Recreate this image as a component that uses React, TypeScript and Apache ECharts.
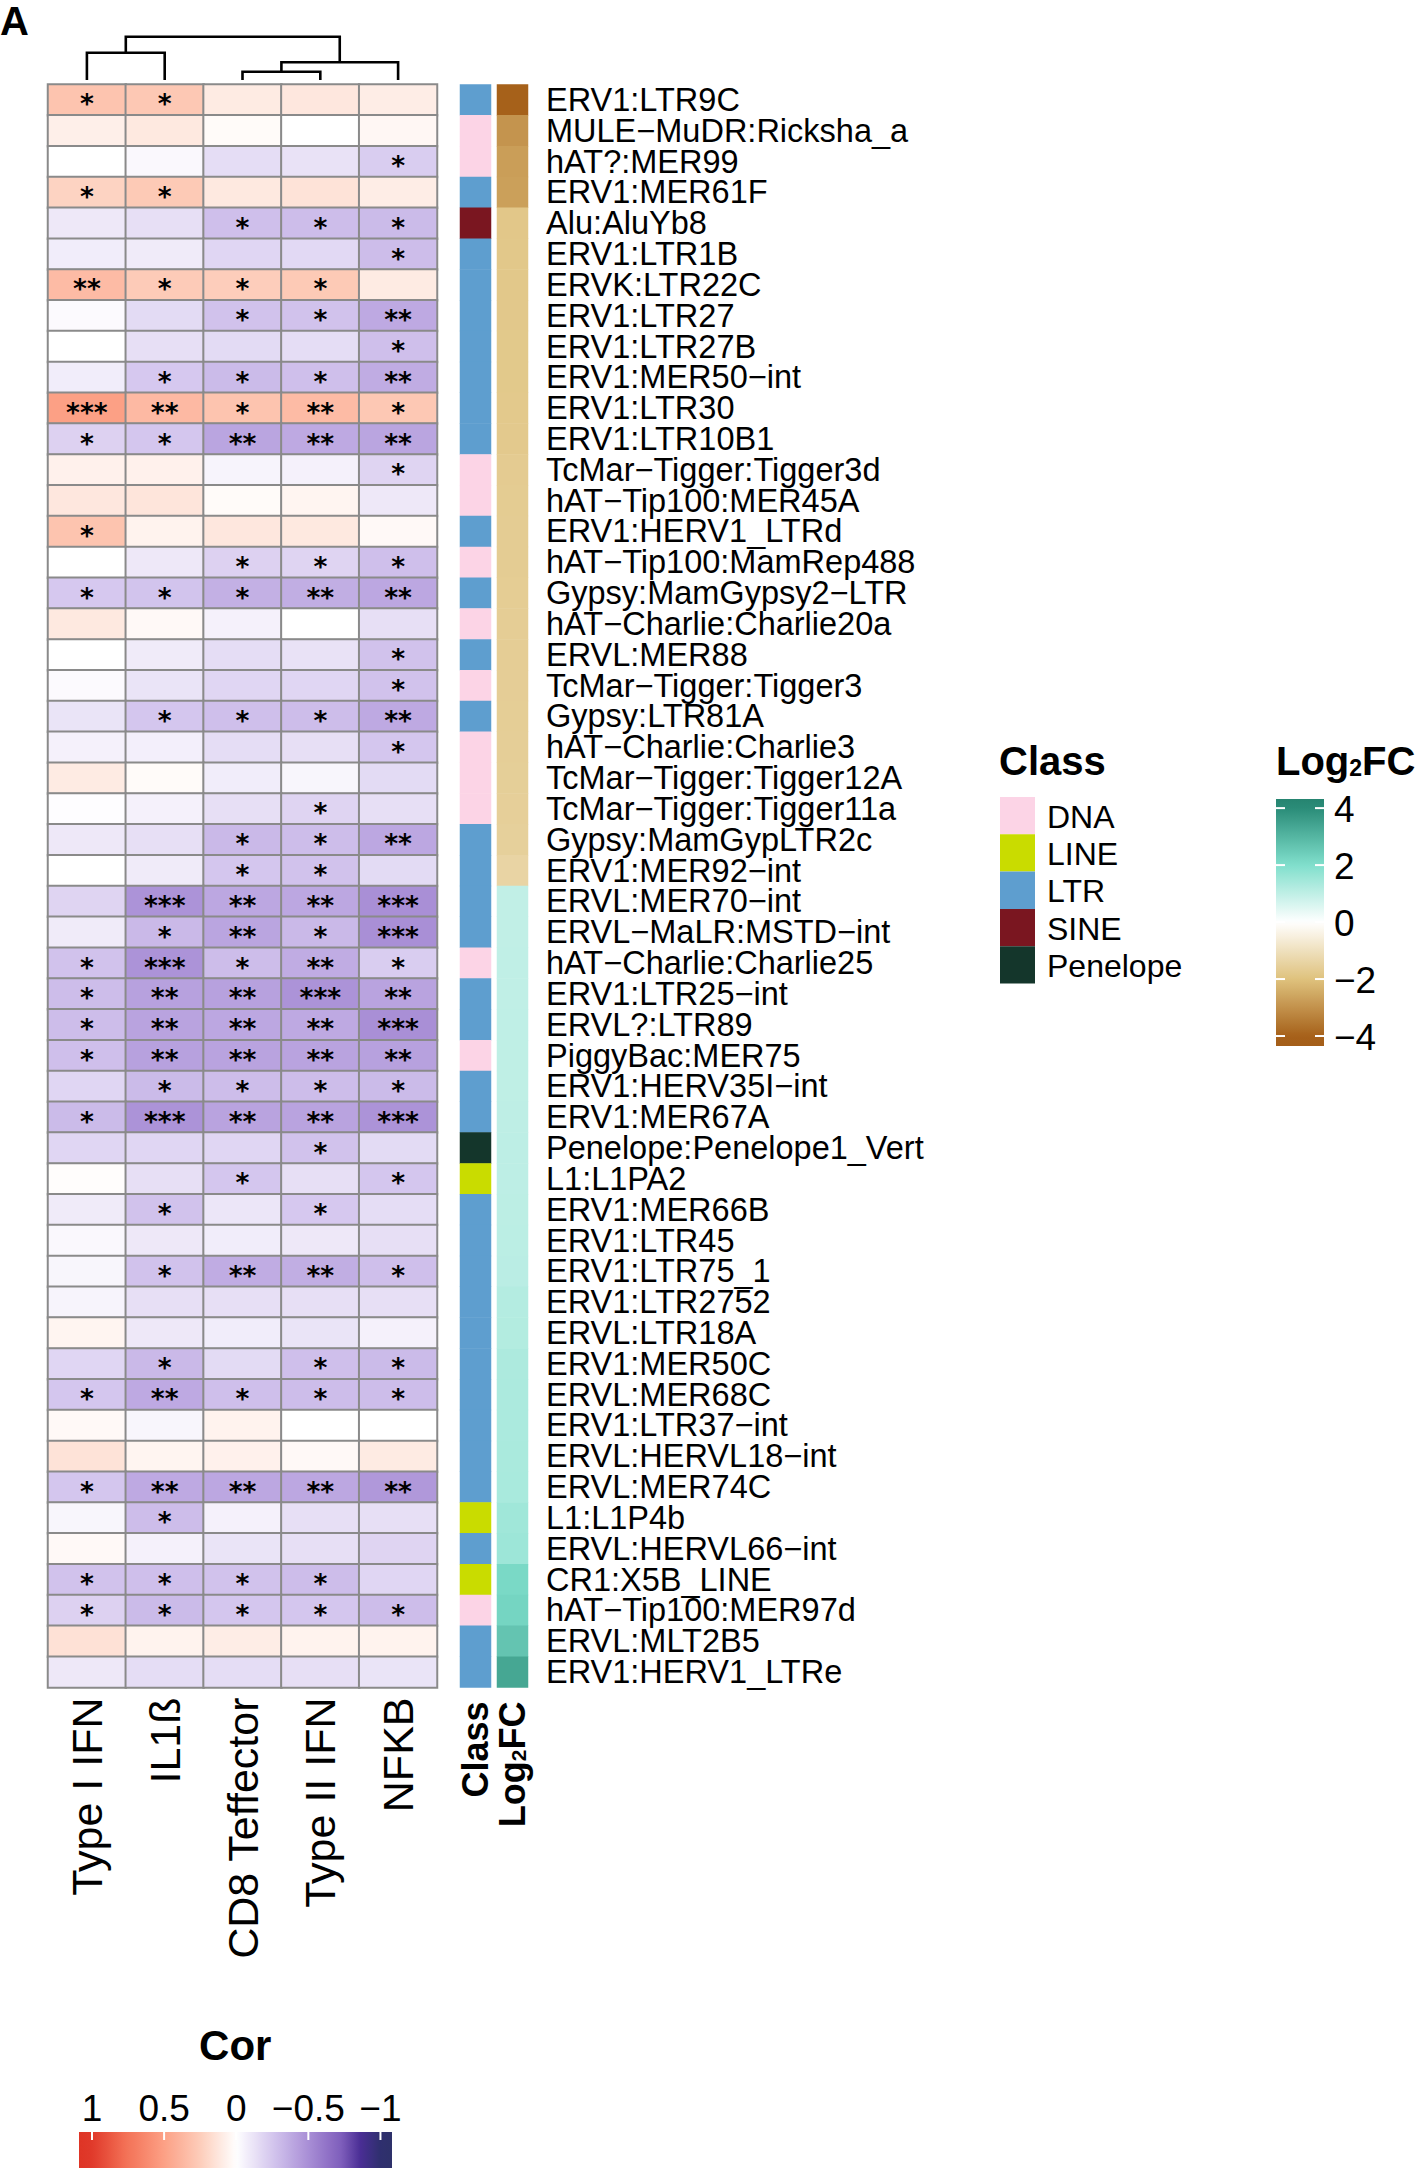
import React, { useEffect, useRef } from 'react';
import * as echarts from 'echarts';

const FONT = '"Liberation Sans", Arial, Helvetica, sans-serif';
const STAR_FONT = '"DejaVu Sans", "Liberation Sans", sans-serif';

// ---------------- DATA ----------------
const columns = ['Type I IFN', 'IL1ß', 'CD8 Teffector', 'Type II IFN', 'NFKB'];

const rowLabels = [
  'ERV1:LTR9C', 'MULE−MuDR:Ricksha_a', 'hAT?:MER99', 'ERV1:MER61F', 'Alu:AluYb8',
  'ERV1:LTR1B', 'ERVK:LTR22C', 'ERV1:LTR27', 'ERV1:LTR27B', 'ERV1:MER50−int',
  'ERV1:LTR30', 'ERV1:LTR10B1', 'TcMar−Tigger:Tigger3d', 'hAT−Tip100:MER45A', 'ERV1:HERV1_LTRd',
  'hAT−Tip100:MamRep488', 'Gypsy:MamGypsy2−LTR', 'hAT−Charlie:Charlie20a', 'ERVL:MER88', 'TcMar−Tigger:Tigger3',
  'Gypsy:LTR81A', 'hAT−Charlie:Charlie3', 'TcMar−Tigger:Tigger12A', 'TcMar−Tigger:Tigger11a', 'Gypsy:MamGypLTR2c',
  'ERV1:MER92−int', 'ERVL:MER70−int', 'ERVL−MaLR:MSTD−int', 'hAT−Charlie:Charlie25', 'ERV1:LTR25−int',
  'ERVL?:LTR89', 'PiggyBac:MER75', 'ERV1:HERV35I−int', 'ERV1:MER67A', 'Penelope:Penelope1_Vert',
  'L1:L1PA2', 'ERV1:MER66B', 'ERV1:LTR45', 'ERV1:LTR75_1', 'ERV1:LTR2752',
  'ERVL:LTR18A', 'ERV1:MER50C', 'ERVL:MER68C', 'ERV1:LTR37−int', 'ERVL:HERVL18−int',
  'ERVL:MER74C', 'L1:L1P4b', 'ERVL:HERVL66−int', 'CR1:X5B_LINE', 'hAT−Tip100:MER97d',
  'ERVL:MLT2B5', 'ERV1:HERV1_LTRe',
];

const classNames = ['DNA', 'LINE', 'LTR', 'SINE', 'Penelope'];
const classColors = ['#FCD4E6', '#C9DC00', '#5E9ECF', '#7A1620', '#14362B'];

const rowClass = [
  'LTR', 'DNA', 'DNA', 'LTR', 'SINE',
  'LTR', 'LTR', 'LTR', 'LTR', 'LTR',
  'LTR', 'LTR', 'DNA', 'DNA', 'LTR',
  'DNA', 'LTR', 'DNA', 'LTR', 'DNA',
  'LTR', 'DNA', 'DNA', 'DNA', 'LTR',
  'LTR', 'LTR', 'LTR', 'DNA', 'LTR',
  'LTR', 'DNA', 'LTR', 'LTR', 'Penelope',
  'LINE', 'LTR', 'LTR', 'LTR', 'LTR',
  'LTR', 'LTR', 'LTR', 'LTR', 'LTR',
  'LTR', 'LINE', 'LTR', 'LINE', 'DNA',
  'LTR', 'LTR',
];

const log2fc = [
  -4.0, -2.95, -2.75, -2.7, -1.82,
  -1.8, -1.8, -1.79, -1.78, -1.78,
  -1.77, -1.76, -1.7, -1.68, -1.67,
  -1.66, -1.65, -1.64, -1.63, -1.62,
  -1.61, -1.6, -1.58, -1.57, -1.55,
  -1.4, 0.98, 0.99, 1.0, 1.0,
  1.01, 1.02, 1.02, 1.03, 1.04,
  1.05, 1.06, 1.07, 1.08, 1.18,
  1.2, 1.28, 1.3, 1.31, 1.33,
  1.35, 1.5, 1.55, 2.15, 2.25,
  2.65, 3.35,
];

// correlation: [Type I IFN, IL1ß, CD8 Teffector, Type II IFN, NFKB]
const corValues = [
  [0.30, 0.28, 0.10, 0.12, 0.09],
  [0.08, 0.11, 0.02, 0.00, 0.04],
  [0.00, -0.03, -0.15, -0.13, -0.22],
  [0.22, 0.27, 0.11, 0.14, 0.09],
  [-0.10, -0.14, -0.28, -0.29, -0.30],
  [-0.08, -0.09, -0.18, -0.17, -0.29],
  [0.35, 0.26, 0.25, 0.27, 0.10],
  [-0.02, -0.16, -0.27, -0.27, -0.38],
  [0.00, -0.14, -0.16, -0.15, -0.28],
  [-0.08, -0.24, -0.30, -0.28, -0.37],
  [0.50, 0.36, 0.30, 0.35, 0.28],
  [-0.20, -0.25, -0.40, -0.38, -0.40],
  [0.07, 0.07, -0.05, -0.06, -0.19],
  [0.12, 0.13, 0.02, 0.05, -0.10],
  [0.30, 0.06, 0.12, 0.11, 0.03],
  [0.00, -0.10, -0.20, -0.19, -0.28],
  [-0.24, -0.26, -0.35, -0.36, -0.39],
  [0.11, 0.03, -0.06, 0.00, -0.14],
  [0.00, -0.09, -0.15, -0.13, -0.27],
  [-0.02, -0.12, -0.18, -0.18, -0.27],
  [-0.12, -0.25, -0.28, -0.29, -0.38],
  [-0.06, -0.07, -0.15, -0.14, -0.25],
  [0.10, 0.02, -0.08, -0.04, -0.16],
  [-0.01, -0.06, -0.14, -0.19, -0.14],
  [-0.10, -0.14, -0.31, -0.29, -0.39],
  [0.00, -0.09, -0.25, -0.27, -0.16],
  [-0.19, -0.48, -0.39, -0.39, -0.50],
  [-0.09, -0.31, -0.40, -0.31, -0.50],
  [-0.27, -0.48, -0.29, -0.37, -0.22],
  [-0.29, -0.42, -0.42, -0.48, -0.41],
  [-0.29, -0.41, -0.39, -0.38, -0.50],
  [-0.28, -0.42, -0.41, -0.41, -0.42],
  [-0.18, -0.30, -0.29, -0.29, -0.30],
  [-0.30, -0.48, -0.41, -0.41, -0.48],
  [-0.18, -0.18, -0.18, -0.27, -0.16],
  [0.01, -0.14, -0.25, -0.14, -0.25],
  [-0.09, -0.27, -0.11, -0.24, -0.15],
  [-0.03, -0.10, -0.08, -0.10, -0.14],
  [-0.04, -0.27, -0.37, -0.36, -0.28],
  [-0.05, -0.14, -0.14, -0.14, -0.14],
  [0.05, -0.10, -0.08, -0.12, -0.06],
  [-0.18, -0.31, -0.16, -0.28, -0.30],
  [-0.25, -0.38, -0.28, -0.29, -0.29],
  [0.03, -0.04, 0.06, 0.00, 0.00],
  [0.14, 0.05, 0.07, 0.03, 0.10],
  [-0.25, -0.38, -0.39, -0.39, -0.46],
  [-0.04, -0.29, -0.06, -0.14, -0.14],
  [0.03, -0.06, -0.12, -0.14, -0.19],
  [-0.27, -0.28, -0.27, -0.29, -0.18],
  [-0.20, -0.30, -0.25, -0.25, -0.29],
  [0.15, 0.06, 0.09, 0.06, 0.06],
  [-0.10, -0.15, -0.15, -0.14, -0.12],
];

// significance level (number of asterisks)
const sigLevels = [
  [1, 1, 0, 0, 0], [0, 0, 0, 0, 0], [0, 0, 0, 0, 1], [1, 1, 0, 0, 0], [0, 0, 1, 1, 1],
  [0, 0, 0, 0, 1], [2, 1, 1, 1, 0], [0, 0, 1, 1, 2], [0, 0, 0, 0, 1], [0, 1, 1, 1, 2],
  [3, 2, 1, 2, 1], [1, 1, 2, 2, 2], [0, 0, 0, 0, 1], [0, 0, 0, 0, 0], [1, 0, 0, 0, 0],
  [0, 0, 1, 1, 1], [1, 1, 1, 2, 2], [0, 0, 0, 0, 0], [0, 0, 0, 0, 1], [0, 0, 0, 0, 1],
  [0, 1, 1, 1, 2], [0, 0, 0, 0, 1], [0, 0, 0, 0, 0], [0, 0, 0, 1, 0], [0, 0, 1, 1, 2],
  [0, 0, 1, 1, 0], [0, 3, 2, 2, 3], [0, 1, 2, 1, 3], [1, 3, 1, 2, 1], [1, 2, 2, 3, 2],
  [1, 2, 2, 2, 3], [1, 2, 2, 2, 2], [0, 1, 1, 1, 1], [1, 3, 2, 2, 3], [0, 0, 0, 1, 0],
  [0, 0, 1, 0, 1], [0, 1, 0, 1, 0], [0, 0, 0, 0, 0], [0, 1, 2, 2, 1], [0, 0, 0, 0, 0],
  [0, 0, 0, 0, 0], [0, 1, 0, 1, 1], [1, 2, 1, 1, 1], [0, 0, 0, 0, 0], [0, 0, 0, 0, 0],
  [1, 2, 2, 2, 2], [0, 1, 0, 0, 0], [0, 0, 0, 0, 0], [1, 1, 1, 1, 0], [1, 1, 1, 1, 1],
  [0, 0, 0, 0, 0], [0, 0, 0, 0, 0],
];

// column dendrogram merges: [xLeft, xRight, mergeHeight, leftChildHeight, rightChildHeight]
const dendroMerges = [
  [2.5, 3.5, 0.19, 0, 0],
  [3.0, 4.5, 0.41, 0.19, 0],
  [0.5, 1.5, 0.63, 0, 0],
  [1.0, 3.75, 1.0, 0.63, 0.41],
];

const corTicks = [1, 0.5, 0, -0.5, -1];
const corTickLabels = ['1', '0.5', '0', '−0.5', '−1'];
const fcTicks = [4, 2, 0, -2, -4];
const fcTickLabels = ['4', '2', '0', '−2', '−4'];

// colour scales (value -> colour)
const corStops: [number, string][] = [
  [-1.1, '#2E3169'], [-1, '#2F2F6E'], [-0.86, '#4A2E95'], [-0.73, '#7E5DBB'],
  [-0.5, '#A98FD6'], [-0.25, '#D4C6EE'], [0, '#FFFFFF'], [0.25, '#FDCDBA'],
  [0.5, '#FCA085'], [0.77, '#F37055'], [1, '#E0392A'], [1.1, '#DE3526'],
];
const fcStops: [number, string][] = [
  [-4.5, '#A35C18'], [-4, '#A6611A'], [-2, '#DFC27D'], [0, '#FFFFFF'],
  [2, '#80DFCC'], [4, '#2A8C78'], [4.5, '#237F6B'],
];

// ---------------- LAYOUT ----------------
const W = 1417;
const H = 2168;
const HM = { left: 48, top: 84.5, width: 389, height: 1603 };
const CLASS_COL = { left: 460, width: 31 };
const FC_COL = { left: 497, width: 31 };
const DENDRO = { top: 36.7, height: 43.3 };

function hex2rgb(h: string) {
  const n = parseInt(h.slice(1), 16);
  return [(n >> 16) & 255, (n >> 8) & 255, n & 255];
}
function scaleColor(stops: [number, string][], v: number) {
  if (v <= stops[0][0]) return stops[0][1];
  for (let i = 1; i < stops.length; i++) {
    if (v <= stops[i][0]) {
      const [v0, c0] = stops[i - 1];
      const [v1, c1] = stops[i];
      const t = (v - v0) / (v1 - v0);
      const a = hex2rgb(c0);
      const b = hex2rgb(c1);
      const c = a.map((x, k) => Math.round(x + (b[k] - x) * t));
      return `rgb(${c[0]},${c[1]},${c[2]})`;
    }
  }
  return stops[stops.length - 1][1];
}
function sampleColors(stops: [number, string][], lo: number, hi: number, n: number) {
  const out: string[] = [];
  for (let i = 0; i < n; i++) out.push(scaleColor(stops, lo + ((hi - lo) * i) / (n - 1)));
  return out;
}
function gradientStops(stops: [number, string][], vStart: number, vEnd: number, n: number) {
  const out: { offset: number; color: string }[] = [];
  for (let i = 0; i < n; i++) {
    const t = i / (n - 1);
    out.push({ offset: t, color: scaleColor(stops, vStart + (vEnd - vStart) * t) });
  }
  return out;
}

function txt(text: string, x: number, y: number, size: number, opts: any = {}) {
  return {
    type: 'text',
    x,
    y,
    silent: true,
    style: {
      text,
      fill: '#000',
      fontSize: size,
      fontFamily: FONT,
      fontWeight: opts.bold ? 'bold' : 'normal',
      align: opts.align || 'left',
      textAlign: opts.align || 'left',
      verticalAlign: 'middle',
      textVerticalAlign: 'middle',
      rich: opts.rich,
    },
  };
}

function buildGraphics() {
  const els: any[] = [];
  // Panel letter
  els.push({
    type: 'text', x: 0, y: 1, silent: true,
    style: { text: 'A', fill: '#000', fontSize: 40, fontWeight: 'bold', fontFamily: FONT, align: 'left', textAlign: 'left', verticalAlign: 'top', textVerticalAlign: 'top' },
  });

  // Class legend
  const CL = { x: 1000, titleY: 761, top: 797, sw: 35, sh: 37.3, labelX: 1047 };
  els.push(txt('Class', CL.x - 1, CL.titleY, 40, { bold: true }));
  classNames.forEach((name, i) => {
    els.push({
      type: 'rect', silent: true,
      shape: { x: CL.x, y: CL.top + i * CL.sh, width: CL.sw, height: CL.sh },
      style: { fill: classColors[i] },
    });
    els.push(txt(name, CL.labelX, CL.top + i * CL.sh + CL.sh / 2 + 1, 32));
  });

  // Log2FC legend
  const FL = { x: 1276, y: 799, w: 48, h: 247, vTop: 4.32, vBottom: -4.35, labelX: 1334, titleX: 1276 };
  els.push(
    txt('{a|Log}{b|2}{a|FC}', FL.titleX, 761, 40, {
      bold: true,
      rich: {
        a: { fontSize: 40, fontWeight: 'bold', fontFamily: FONT, fill: '#000' },
        b: { fontSize: 23, fontWeight: 'bold', fontFamily: FONT, fill: '#000', verticalAlign: 'bottom', padding: [0, 0, 2, 0] },
      },
    })
  );
  els.push({
    type: 'rect', silent: true,
    shape: { x: FL.x, y: FL.y, width: FL.w, height: FL.h },
    style: {
      fill: { type: 'linear', x: 0, y: 0, x2: 0, y2: 1, colorStops: gradientStops(fcStops, FL.vTop, FL.vBottom, 60) },
    },
  });
  fcTicks.forEach((v, i) => {
    const y = FL.y + ((FL.vTop - v) / (FL.vTop - FL.vBottom)) * FL.h;
    els.push({ type: 'line', silent: true, shape: { x1: FL.x, y1: y, x2: FL.x + 9, y2: y }, style: { stroke: '#fff', lineWidth: 2 } });
    els.push({ type: 'line', silent: true, shape: { x1: FL.x + FL.w - 9, y1: y, x2: FL.x + FL.w, y2: y }, style: { stroke: '#fff', lineWidth: 2 } });
    els.push(txt(fcTickLabels[i], FL.labelX, y + 1, 37));
  });

  // Cor legend
  const CR = { x: 79, y: 2132, w: 313, h: 40, vLeft: 1.09, vRight: -1.08 };
  els.push(txt('Cor', CR.x + ((CR.vLeft - 0) / (CR.vLeft - CR.vRight)) * CR.w - 1, 2045, 42, { bold: true, align: 'center' }));
  els.push({
    type: 'rect', silent: true,
    shape: { x: CR.x, y: CR.y, width: CR.w, height: CR.h },
    style: {
      fill: { type: 'linear', x: 0, y: 0, x2: 1, y2: 0, colorStops: gradientStops(corStops, CR.vLeft, CR.vRight, 80) },
    },
  });
  corTicks.forEach((v, i) => {
    const x = CR.x + ((CR.vLeft - v) / (CR.vLeft - CR.vRight)) * CR.w;
    els.push({ type: 'line', silent: true, shape: { x1: x, y1: CR.y, x2: x, y2: CR.y + 8 }, style: { stroke: '#fff', lineWidth: 2 } });
    els.push(txt(corTickLabels[i], x, 2108, 37, { align: 'center' }));
  });
  return els;
}

function buildOption(): any {
  const nRows = rowLabels.length;
  const heatData: any[] = [];
  for (let r = 0; r < nRows; r++) {
    for (let c = 0; c < columns.length; c++) {
      const s = sigLevels[r][c];
      heatData.push({ value: [c, r, corValues[r][c], s], label: { show: s > 0 } });
    }
  }
  const classData = rowClass.map((cl, r) => [0, r, classNames.indexOf(cl)]);
  const fcData = log2fc.map((v, r) => [0, r, v]);

  const gridBase = { top: HM.top, height: HM.height, outerBoundsMode: 'none', containLabel: false };
  const hiddenCatY = (gi: number) => ({
    type: 'category', gridIndex: gi, data: rowLabels, inverse: true, show: false,
  });

  return {
    animation: false,
    backgroundColor: '#ffffff',
    textStyle: { fontFamily: FONT },
    grid: [
      { ...gridBase, left: HM.left, width: HM.width },
      { ...gridBase, left: CLASS_COL.left, width: CLASS_COL.width },
      { ...gridBase, left: FC_COL.left, width: FC_COL.width },
      { left: HM.left, width: HM.width, top: DENDRO.top, height: DENDRO.height, outerBoundsMode: 'none', containLabel: false },
    ],
    xAxis: [
      {
        type: 'category', gridIndex: 0, data: columns, position: 'bottom',
        axisLine: { show: false }, axisTick: { show: false }, splitLine: { show: false },
        axisLabel: { rotate: 90, interval: 0, fontSize: 43, color: '#000', margin: 10, fontFamily: FONT },
      },
      {
        type: 'category', gridIndex: 1, data: ['Class'], position: 'bottom',
        axisLine: { show: false }, axisTick: { show: false }, splitLine: { show: false },
        axisLabel: { rotate: 90, interval: 0, fontSize: 36, fontWeight: 'bold', color: '#000', margin: 14, fontFamily: FONT },
      },
      {
        type: 'category', gridIndex: 2, data: ['Log2FC'], position: 'bottom',
        axisLine: { show: false }, axisTick: { show: false }, splitLine: { show: false },
        axisLabel: {
          rotate: 90, interval: 0, margin: 14, color: '#000',
          formatter: () => '{a|Log}{b|2}{a|FC}',
          rich: {
            a: { fontSize: 36, fontWeight: 'bold', color: '#000', fontFamily: FONT },
            b: { fontSize: 21, fontWeight: 'bold', color: '#000', fontFamily: FONT, verticalAlign: 'bottom', padding: [0, 0, 2, 0] },
          },
        },
      },
      { type: 'value', gridIndex: 3, min: 0, max: columns.length, show: false },
    ],
    yAxis: [
      hiddenCatY(0),
      hiddenCatY(1),
      {
        type: 'category', gridIndex: 2, data: rowLabels, inverse: true, position: 'right',
        axisLine: { show: false }, axisTick: { show: false }, splitLine: { show: false },
        axisLabel: { interval: 0, fontSize: 32.5, color: '#000', margin: 18, fontFamily: FONT, align: 'left', lineHeight: 30 },
      },
      { type: 'value', gridIndex: 3, min: 0, max: 1, show: false },
    ],
    visualMap: [
      {
        type: 'continuous', show: false, seriesIndex: 0, dimension: 2, min: -1, max: 1,
        inRange: { color: sampleColors(corStops, -1, 1, 101) },
      },
      {
        type: 'piecewise', show: false, seriesIndex: 1, dimension: 2,
        pieces: classNames.map((n, i) => ({ value: i, color: classColors[i], label: n })),
      },
      {
        type: 'continuous', show: false, seriesIndex: 2, dimension: 2, min: -4.5, max: 4.5,
        inRange: { color: sampleColors(fcStops, -4.5, 4.5, 91) },
      },
    ],
    series: [
      {
        type: 'heatmap', xAxisIndex: 0, yAxisIndex: 0, data: heatData,
        itemStyle: { borderColor: '#8A8A8A', borderWidth: 2 },
        emphasis: { disabled: true },
        label: {
          show: true,
          formatter: (p: any) => '*'.repeat(p.value[3]),
          fontSize: 26.5, lineHeight: 20, fontWeight: 'bold', color: '#000', fontFamily: STAR_FONT, offset: [0, 4],
        },
      },
      {
        type: 'heatmap', xAxisIndex: 1, yAxisIndex: 1, data: classData,
        itemStyle: { borderWidth: 0 }, emphasis: { disabled: true },
      },
      {
        type: 'heatmap', xAxisIndex: 2, yAxisIndex: 2, data: fcData,
        itemStyle: { borderWidth: 0 }, emphasis: { disabled: true },
      },
      {
        type: 'custom', xAxisIndex: 3, yAxisIndex: 3, coordinateSystem: 'cartesian2d',
        data: dendroMerges, clip: false, silent: true,
        encode: { x: [0, 1], y: [2, 3, 4] },
        renderItem: (_params: any, api: any) => {
          const x1 = api.value(0), x2 = api.value(1), h = api.value(2), c1 = api.value(3), c2 = api.value(4);
          const pts = [api.coord([x1, c1]), api.coord([x1, h]), api.coord([x2, h]), api.coord([x2, c2])];
          return { type: 'polyline', shape: { points: pts }, style: { stroke: '#000', lineWidth: 2.6, fill: null } };
        },
      },
    ],
    graphic: { elements: buildGraphics() },
  };
}

export default function App() {
  const ref = useRef<HTMLDivElement>(null);
  useEffect(() => {
    if (!ref.current) return;
    const chart = echarts.init(ref.current, null, { renderer: 'svg' });
    chart.setOption(buildOption());
    return () => chart.dispose();
  }, []);
  return (
    <div
      ref={ref}
      style={{ position: 'absolute', left: 0, top: 0, width: W, height: H, background: '#fff' }}
    />
  );
}
